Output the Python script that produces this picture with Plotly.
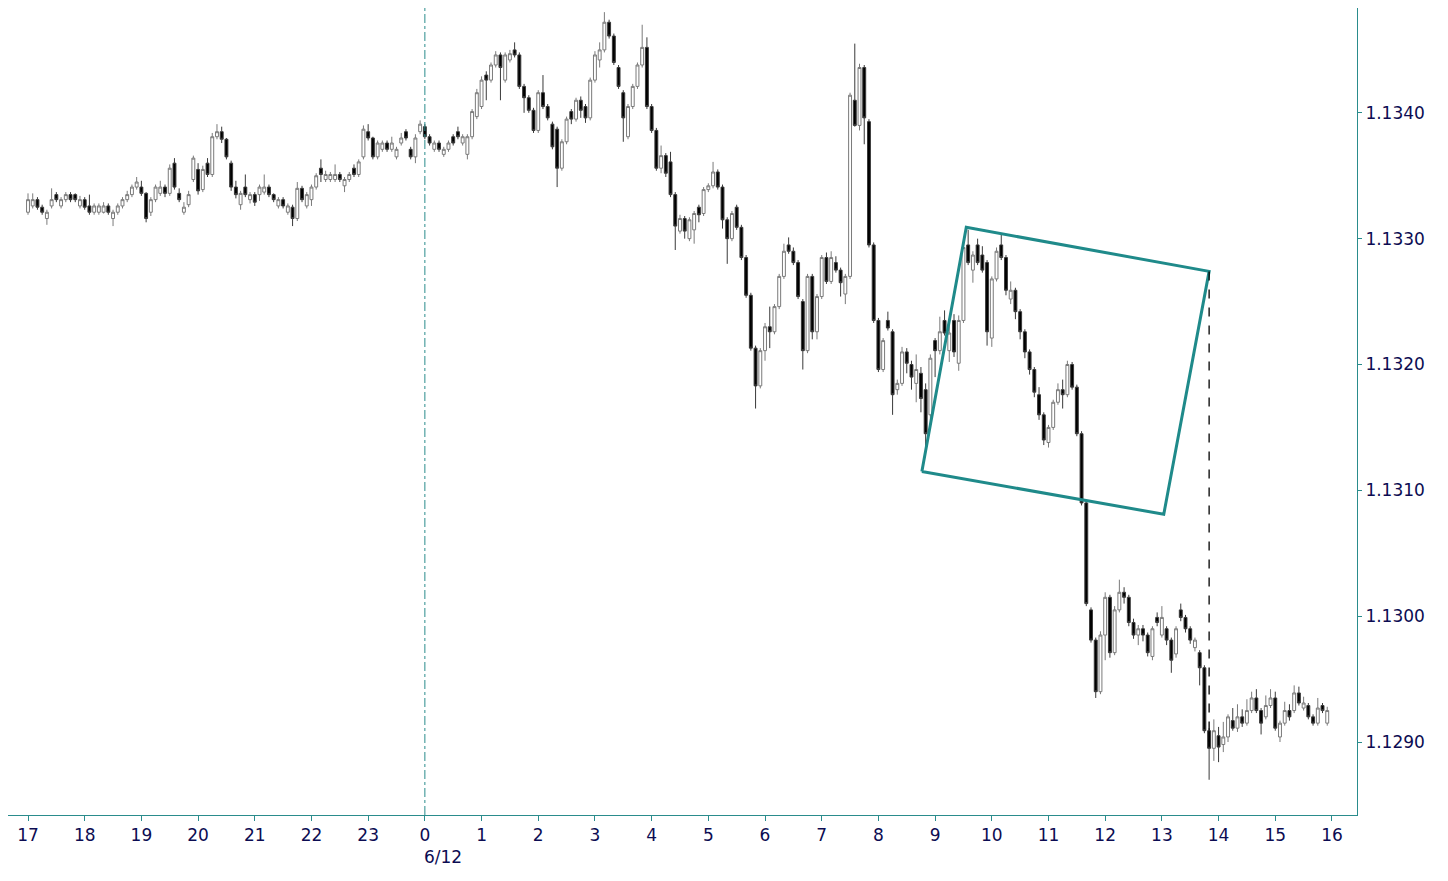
import pandas as pd
import plotly.graph_objects as go

# ---------------- data (EUR/USD 5-minute bars, 11 Jun 17:00 -> 12 Jun 15:55) ----------------
start_time = "2019-06-11 17:00"
bar_count = 276

opens = [
    1.13321, 1.13326, 1.13331, 1.13325, 1.13316, 1.13326, 1.13335, 1.13326, 1.13331, 1.13335, 1.13335, 1.13326,  # 17
    1.13331, 1.13326, 1.13321, 1.13321, 1.13321, 1.13326, 1.13316, 1.13321, 1.13326, 1.13331, 1.13335, 1.13341,  # 18
    1.13341, 1.13336, 1.13321, 1.13331, 1.13336, 1.13341, 1.13336, 1.13360, 1.13336, 1.13321, 1.13327, 1.13347,  # 19
    1.13355, 1.13339, 1.13360, 1.13351, 1.13381, 1.13385, 1.13379, 1.13360, 1.13341, 1.13327, 1.13341, 1.13331,  # 20
    1.13335, 1.13335, 1.13337, 1.13341, 1.13335, 1.13326, 1.13331, 1.13321, 1.13325, 1.13316, 1.13340, 1.13326,  # 21
    1.13331, 1.13341, 1.13356, 1.13347, 1.13347, 1.13347, 1.13351, 1.13342, 1.13347, 1.13356, 1.13351, 1.13365,  # 22
    1.13385, 1.13380, 1.13365, 1.13371, 1.13376, 1.13371, 1.13365, 1.13376, 1.13385, 1.13371, 1.13365, 1.13385,  # 23
    1.13389, 1.13381, 1.13371, 1.13376, 1.13367, 1.13371, 1.13381, 1.13385, 1.13376, 1.13367, 1.13381, 1.13397,  # 0
    1.13405, 1.13430, 1.13426, 1.13438, 1.13446, 1.13426, 1.13442, 1.13450, 1.13446, 1.13421, 1.13412, 1.13402,  # 1
    1.13386, 1.13416, 1.13405, 1.13391, 1.13387, 1.13356, 1.13377, 1.13401, 1.13395, 1.13410, 1.13405, 1.13396,  # 2
    1.13426, 1.13442, 1.13450, 1.13472, 1.13461, 1.13436, 1.13416, 1.13381, 1.13405, 1.13421, 1.13438, 1.13452,  # 3
    1.13405, 1.13386, 1.13356, 1.13366, 1.13361, 1.13335, 1.13306, 1.13316, 1.13300, 1.13307, 1.13325, 1.13320,  # 4
    1.13339, 1.13342, 1.13353, 1.13341, 1.13315, 1.13300, 1.13325, 1.13309, 1.13285, 1.13255, 1.13213, 1.13183,  # 5
    1.13211, 1.13230, 1.13226, 1.13246, 1.13270, 1.13295, 1.13290, 1.13281, 1.13250, 1.13211, 1.13270, 1.13226,  # 6
    1.13254, 1.13285, 1.13266, 1.13281, 1.13275, 1.13256, 1.13270, 1.13410, 1.13390, 1.13436, 1.13393, 1.13295,  # 7
    1.13235, 1.13196, 1.13235, 1.13226, 1.13180, 1.13185, 1.13210, 1.13200, 1.13185, 1.13193, 1.13180, 1.13160,  # 8
    1.13219, 1.13211, 1.13235, 1.13211, 1.13235, 1.13201, 1.13235, 1.13295, 1.13275, 1.13295, 1.13287, 1.13281,  # 9
    1.13221, 1.13268, 1.13295, 1.13285, 1.13252, 1.13259, 1.13242, 1.13226, 1.13210, 1.13196, 1.13176, 1.13160,  # 10
    1.13138, 1.13150, 1.13170, 1.13180, 1.13176, 1.13200, 1.13182, 1.13145, 1.13090, 1.13005, 1.12981, 1.12940,  # 11
    1.12985, 1.13015, 1.12971, 1.13005, 1.13019, 1.13015, 1.12995, 1.12985, 1.12990, 1.12985, 1.12968, 1.12999,  # 12
    1.12985, 1.12990, 1.12981, 1.12970, 1.13005, 1.12999, 1.12990, 1.12975, 1.12971, 1.12959, 1.12909, 1.12895,  # 13
    1.12905, 1.12898, 1.12904, 1.12917, 1.12911, 1.12920, 1.12915, 1.12925, 1.12935, 1.12925, 1.12920, 1.12929,  # 14
    1.12935, 1.12904, 1.12915, 1.12925, 1.12925, 1.12939, 1.12927, 1.12929, 1.12920, 1.12915, 1.12929, 1.12915,  # 15
]

highs = [
    1.13336, 1.13336, 1.13333, 1.13327, 1.13323, 1.13340, 1.13337, 1.13333, 1.13337, 1.13337, 1.13336, 1.13334,
    1.13333, 1.13335, 1.13328, 1.13328, 1.13329, 1.13328, 1.13323, 1.13328, 1.13333, 1.13338, 1.13343, 1.13349,
    1.13346, 1.13337, 1.13333, 1.13343, 1.13346, 1.13343, 1.13359, 1.13364, 1.13340, 1.13329, 1.13338, 1.13366,
    1.13360, 1.13358, 1.13364, 1.13384, 1.13391, 1.13389, 1.13380, 1.13362, 1.13346, 1.13338, 1.13351, 1.13337,
    1.13337, 1.13343, 1.13351, 1.13343, 1.13336, 1.13333, 1.13333, 1.13328, 1.13327, 1.13345, 1.13342, 1.13337,
    1.13343, 1.13352, 1.13363, 1.13354, 1.13353, 1.13359, 1.13353, 1.13349, 1.13353, 1.13359, 1.13363, 1.13390,
    1.13391, 1.13381, 1.13378, 1.13378, 1.13378, 1.13381, 1.13373, 1.13384, 1.13387, 1.13373, 1.13383, 1.13394,
    1.13391, 1.13383, 1.13378, 1.13378, 1.13373, 1.13378, 1.13383, 1.13389, 1.13383, 1.13383, 1.13403, 1.13419,
    1.13429, 1.13433, 1.13440, 1.13449, 1.13448, 1.13448, 1.13450, 1.13456, 1.13448, 1.13423, 1.13414, 1.13404,
    1.13418, 1.13430, 1.13407, 1.13393, 1.13389, 1.13379, 1.13397, 1.13403, 1.13412, 1.13413, 1.13407, 1.13428,
    1.13449, 1.13456, 1.13480, 1.13474, 1.13463, 1.13438, 1.13418, 1.13407, 1.13423, 1.13440, 1.13470, 1.13460,
    1.13407, 1.13388, 1.13374, 1.13368, 1.13369, 1.13337, 1.13319, 1.13318, 1.13317, 1.13322, 1.13327, 1.13341,
    1.13344, 1.13361, 1.13355, 1.13343, 1.13317, 1.13322, 1.13327, 1.13311, 1.13287, 1.13257, 1.13215, 1.13213,
    1.13233, 1.13246, 1.13248, 1.13272, 1.13296, 1.13301, 1.13293, 1.13283, 1.13252, 1.13272, 1.13272, 1.13256,
    1.13287, 1.13289, 1.13290, 1.13286, 1.13277, 1.13272, 1.13416, 1.13455, 1.13439, 1.13438, 1.13395, 1.13297,
    1.13237, 1.13221, 1.13242, 1.13228, 1.13188, 1.13214, 1.13213, 1.13203, 1.13208, 1.13198, 1.13185, 1.13208,
    1.13221, 1.13238, 1.13243, 1.13234, 1.13240, 1.13239, 1.13296, 1.13307, 1.13290, 1.13300, 1.13294, 1.13283,
    1.13270, 1.13293, 1.13303, 1.13287, 1.13266, 1.13261, 1.13244, 1.13228, 1.13212, 1.13198, 1.13182, 1.13162,
    1.13152, 1.13172, 1.13185, 1.13188, 1.13203, 1.13202, 1.13184, 1.13147, 1.13092, 1.13007, 1.12983, 1.12988,
    1.13019, 1.13017, 1.13008, 1.13029, 1.13023, 1.13017, 1.12998, 1.12993, 1.12993, 1.12987, 1.12992, 1.13003,
    1.13008, 1.12992, 1.12983, 1.12992, 1.13010, 1.13001, 1.12992, 1.12983, 1.12973, 1.12961, 1.12911, 1.12918,
    1.12912, 1.12916, 1.12922, 1.12927, 1.12930, 1.12926, 1.12934, 1.12940, 1.12942, 1.12927, 1.12937, 1.12942,
    1.12940, 1.12917, 1.12932, 1.12930, 1.12945, 1.12944, 1.12936, 1.12931, 1.12922, 1.12935, 1.12931, 1.12928,
]

lows = [
    1.13319, 1.13324, 1.13323, 1.13319, 1.13311, 1.13324, 1.13329, 1.13324, 1.13329, 1.13329, 1.13329, 1.13324,
    1.13323, 1.13319, 1.13319, 1.13319, 1.13320, 1.13319, 1.13310, 1.13319, 1.13324, 1.13329, 1.13333, 1.13339,
    1.13334, 1.13313, 1.13318, 1.13329, 1.13334, 1.13333, 1.13334, 1.13339, 1.13329, 1.13319, 1.13325, 1.13345,
    1.13335, 1.13337, 1.13349, 1.13349, 1.13379, 1.13376, 1.13363, 1.13338, 1.13332, 1.13323, 1.13333, 1.13328,
    1.13326, 1.13330, 1.13335, 1.13333, 1.13329, 1.13324, 1.13324, 1.13319, 1.13310, 1.13314, 1.13329, 1.13324,
    1.13326, 1.13339, 1.13345, 1.13345, 1.13345, 1.13345, 1.13345, 1.13337, 1.13345, 1.13349, 1.13349, 1.13363,
    1.13378, 1.13363, 1.13363, 1.13369, 1.13369, 1.13369, 1.13363, 1.13374, 1.13378, 1.13363, 1.13360, 1.13383,
    1.13379, 1.13374, 1.13369, 1.13369, 1.13365, 1.13369, 1.13374, 1.13379, 1.13374, 1.13363, 1.13379, 1.13395,
    1.13403, 1.13410, 1.13424, 1.13436, 1.13410, 1.13424, 1.13440, 1.13444, 1.13419, 1.13400, 1.13400, 1.13384,
    1.13384, 1.13403, 1.13394, 1.13371, 1.13341, 1.13354, 1.13375, 1.13391, 1.13393, 1.13396, 1.13392, 1.13394,
    1.13424, 1.13436, 1.13448, 1.13459, 1.13438, 1.13419, 1.13377, 1.13379, 1.13403, 1.13419, 1.13436, 1.13403,
    1.13384, 1.13354, 1.13352, 1.13349, 1.13333, 1.13291, 1.13304, 1.13300, 1.13298, 1.13296, 1.13313, 1.13318,
    1.13337, 1.13340, 1.13339, 1.13308, 1.13280, 1.13298, 1.13307, 1.13283, 1.13253, 1.13211, 1.13165, 1.13181,
    1.13203, 1.13213, 1.13224, 1.13244, 1.13268, 1.13288, 1.13279, 1.13252, 1.13196, 1.13209, 1.13220, 1.13220,
    1.13252, 1.13264, 1.13264, 1.13273, 1.13254, 1.13248, 1.13268, 1.13389, 1.13386, 1.13375, 1.13293, 1.13233,
    1.13194, 1.13194, 1.13227, 1.13160, 1.13176, 1.13183, 1.13193, 1.13180, 1.13170, 1.13162, 1.13135, 1.13150,
    1.13190, 1.13208, 1.13223, 1.13202, 1.13206, 1.13195, 1.13233, 1.13279, 1.13265, 1.13279, 1.13273, 1.13215,
    1.13214, 1.13266, 1.13283, 1.13255, 1.13248, 1.13236, 1.13220, 1.13205, 1.13192, 1.13174, 1.13156, 1.13136,
    1.13134, 1.13148, 1.13168, 1.13165, 1.13174, 1.13180, 1.13143, 1.13088, 1.13008, 1.12979, 1.12935, 1.12938,
    1.12965, 1.12967, 1.12969, 1.13003, 1.13010, 1.12992, 1.12982, 1.12977, 1.12980, 1.12968, 1.12965, 1.12992,
    1.12983, 1.12977, 1.12955, 1.12967, 1.12996, 1.12987, 1.12978, 1.12972, 1.12945, 1.12907, 1.12870, 1.12885,
    1.12884, 1.12892, 1.12900, 1.12909, 1.12908, 1.12912, 1.12913, 1.12923, 1.12923, 1.12906, 1.12918, 1.12927,
    1.12909, 1.12900, 1.12913, 1.12917, 1.12923, 1.12929, 1.12925, 1.12918, 1.12913, 1.12913, 1.12923, 1.12913,
]

closes = [
    1.13331, 1.13331, 1.13325, 1.13321, 1.13321, 1.13331, 1.13331, 1.13331, 1.13335, 1.13331, 1.13331, 1.13331,
    1.13325, 1.13321, 1.13326, 1.13326, 1.13326, 1.13321, 1.13321, 1.13326, 1.13331, 1.13335, 1.13341, 1.13345,
    1.13336, 1.13316, 1.13331, 1.13341, 1.13341, 1.13336, 1.13356, 1.13341, 1.13331, 1.13325, 1.13335, 1.13364,
    1.13338, 1.13355, 1.13351, 1.13381, 1.13385, 1.13379, 1.13365, 1.13341, 1.13335, 1.13336, 1.13335, 1.13335,
    1.13329, 1.13341, 1.13341, 1.13335, 1.13331, 1.13331, 1.13326, 1.13326, 1.13316, 1.13340, 1.13331, 1.13335,
    1.13341, 1.13350, 1.13351, 1.13351, 1.13351, 1.13351, 1.13347, 1.13347, 1.13351, 1.13351, 1.13361, 1.13387,
    1.13380, 1.13365, 1.13376, 1.13376, 1.13371, 1.13376, 1.13371, 1.13380, 1.13380, 1.13365, 1.13380, 1.13391,
    1.13381, 1.13376, 1.13376, 1.13371, 1.13371, 1.13376, 1.13376, 1.13381, 1.13381, 1.13381, 1.13401, 1.13416,
    1.13426, 1.13426, 1.13438, 1.13446, 1.13436, 1.13446, 1.13447, 1.13446, 1.13421, 1.13412, 1.13402, 1.13386,
    1.13416, 1.13405, 1.13396, 1.13373, 1.13356, 1.13377, 1.13395, 1.13395, 1.13410, 1.13402, 1.13396, 1.13426,
    1.13446, 1.13450, 1.13472, 1.13461, 1.13440, 1.13421, 1.13396, 1.13405, 1.13421, 1.13438, 1.13452, 1.13405,
    1.13386, 1.13356, 1.13366, 1.13352, 1.13335, 1.13310, 1.13316, 1.13306, 1.13315, 1.13320, 1.13319, 1.13339,
    1.13342, 1.13353, 1.13341, 1.13315, 1.13300, 1.13320, 1.13309, 1.13285, 1.13255, 1.13213, 1.13183, 1.13211,
    1.13230, 1.13226, 1.13246, 1.13270, 1.13290, 1.13290, 1.13281, 1.13254, 1.13211, 1.13270, 1.13226, 1.13254,
    1.13285, 1.13266, 1.13285, 1.13275, 1.13265, 1.13270, 1.13414, 1.13390, 1.13436, 1.13396, 1.13295, 1.13235,
    1.13196, 1.13219, 1.13229, 1.13176, 1.13185, 1.13210, 1.13201, 1.13190, 1.13196, 1.13173, 1.13145, 1.13205,
    1.13211, 1.13226, 1.13225, 1.13225, 1.13210, 1.13235, 1.13293, 1.13281, 1.13287, 1.13281, 1.13275, 1.13226,
    1.13268, 1.13290, 1.13285, 1.13259, 1.13259, 1.13242, 1.13226, 1.13210, 1.13196, 1.13178, 1.13160, 1.13140,
    1.13150, 1.13170, 1.13180, 1.13176, 1.13200, 1.13182, 1.13145, 1.13090, 1.13010, 1.12981, 1.12940, 1.12985,
    1.13015, 1.12971, 1.13005, 1.13019, 1.13015, 1.12995, 1.12985, 1.12990, 1.12985, 1.12971, 1.12990, 1.12995,
    1.12999, 1.12981, 1.12965, 1.12990, 1.12999, 1.12990, 1.12981, 1.12981, 1.12959, 1.12909, 1.12895, 1.12909,
    1.12896, 1.12904, 1.12920, 1.12911, 1.12920, 1.12915, 1.12925, 1.12935, 1.12925, 1.12915, 1.12929, 1.12935,
    1.12911, 1.12915, 1.12925, 1.12920, 1.12939, 1.12931, 1.12931, 1.12920, 1.12915, 1.12927, 1.12925, 1.12925,
]

# x-axis hour labels
hour_labels = ["17", "18", "19", "20", "21", "22", "23", "0", "1", "2", "3", "4",
               "5", "6", "7", "8", "9", "10", "11", "12", "13", "14", "15", "16"]
date_label = "6/12"
date_label_time = "2019-06-12 00:00"

# price axis labels
price_ticks = [1.1290, 1.1300, 1.1310, 1.1320, 1.1330, 1.1340]
price_labels = ["1.1290", "1.1300", "1.1310", "1.1320", "1.1330", "1.1340"]

# drawn box (teal rectangle) corners: time, price
box_times = ["2019-06-12 08:46", "2019-06-12 09:33", "2019-06-12 13:50", "2019-06-12 13:02", "2019-06-12 08:46"]
box_prices = [1.13115, 1.13309, 1.13274, 1.13081, 1.13115]

# dashed projection line
proj_time = "2019-06-12 13:50"
proj_prices = [1.13274, 1.12900]

# ---------------- figure ----------------
times = pd.date_range(start_time, periods=bar_count, freq="5min")
hour_ticks = pd.date_range(start_time, periods=len(hour_labels), freq="h")

TEAL = "#2a8c8c"
NAVY = "#0c0c52"
FONT = "DejaVu Sans"

fig = go.Figure()

fig.add_trace(go.Candlestick(
    x=times, open=opens, high=highs, low=lows, close=closes,
    increasing=dict(line=dict(color="#7a7a7a", width=1), fillcolor="white"),
    decreasing=dict(line=dict(color="#3a3a3a", width=1), fillcolor="black"),
    whiskerwidth=0, showlegend=False, hoverinfo="skip",
))

fig.add_trace(go.Scatter(
    x=pd.to_datetime(box_times), y=box_prices, mode="lines",
    line=dict(color="#1f8a8a", width=3), showlegend=False, hoverinfo="skip",
))

fig.add_trace(go.Scatter(
    x=pd.to_datetime([proj_time, proj_time]), y=proj_prices, mode="lines",
    line=dict(color="black", width=1.3, dash="dash"), showlegend=False, hoverinfo="skip",
))

fig.add_shape(type="line", xref="x", yref="paper",
              x0=pd.Timestamp(date_label_time), x1=pd.Timestamp(date_label_time), y0=0, y1=1,
              line=dict(color=TEAL, width=1, dash="dashdot"))

fig.add_annotation(x=pd.Timestamp(date_label_time), y=-0.052, xref="x", yref="paper",
                   text=date_label, showarrow=False, xanchor="left", yanchor="middle",
                   xshift=-3, font=dict(family=FONT, size=17, color=NAVY))

fig.update_layout(
    width=1440, height=873,
    margin=dict(l=0, r=91, t=0, b=66),
    paper_bgcolor="white", plot_bgcolor="white",
    boxgap=0.12,
    font=dict(family=FONT, size=17, color=NAVY),
    xaxis=dict(
        type="date",
        range=[pd.Timestamp("2019-06-11 16:38:50"), pd.Timestamp("2019-06-12 16:26:30")],
        tickvals=hour_ticks, ticktext=hour_labels,
        ticks="outside", ticklen=5, tickcolor=TEAL, tickwidth=1,
        showline=True, linecolor=TEAL, linewidth=1,
        showgrid=False, zeroline=False,
        rangeslider=dict(visible=False),
        tickfont=dict(family=FONT, size=17, color=NAVY),
    ),
    yaxis=dict(
        side="right",
        range=[1.12842, 1.134833],
        tickvals=price_ticks, ticktext=price_labels,
        ticks="outside", ticklen=4, tickcolor=TEAL, tickwidth=1,
        showline=True, linecolor=TEAL, linewidth=1,
        showgrid=False, zeroline=False,
        tickfont=dict(family=FONT, size=17, color=NAVY),
    ),
)

fig.write_html("out.html")
